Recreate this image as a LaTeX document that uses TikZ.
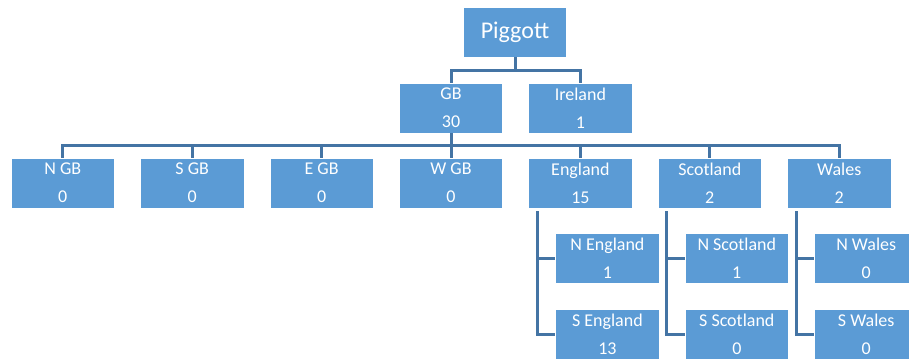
\documentclass[tikz,border=0pt]{standalone}
\usepackage{fontspec}
\setmainfont{Carlito}
\usetikzlibrary{positioning,calc}
\definecolor{boxblue}{RGB}{91,155,213}
\definecolor{lineblue}{RGB}{68,116,164}

\begin{document}
\begin{tikzpicture}[
    x=1pt, y=1pt,
    node distance=25pt and 25.3pt,
    every node/.style={font=\fontsize{18}{28}\selectfont, text=white},
    box/.style={rectangle, draw=white, line width=0.6pt, fill=boxblue, minimum width=103.5pt, minimum height=50pt, inner sep=0pt, align=center},
    conn/.style={draw=lineblue, line width=3pt}
]
    \useasboundingbox (0,0) rectangle (909,-359);
    \clip (0,0) rectangle (909,-359);

    % Nodes
    \node[box, font=\fontsize{24}{28}\selectfont] (piggott) at (515,-32) {Piggott};
    \node[box] (gb) at (451,-108) {GB\\30};
    \node[box, right=of gb] (ireland) {Ireland\\1};

    \node[box] (wgb) at (451,-183) {W GB\\0};
    \node[box, left=of wgb] (egb) {E GB\\0};
    \node[box, left=of egb] (sgb) {S GB\\0};
    \node[box, left=of sgb] (ngb) {N GB\\0};
    \node[box, right=of wgb] (england) {England\\15};
    \node[box, right=of england] (scotland) {Scotland\\2};
    \node[box, right=of scotland] (wales) {Wales\\2};

    \node[box, below=of england, xshift=27pt] (nengland) {N England\\1};
    \node[box, below=of nengland] (sengland) {S England\\13};
    \node[box, below=of scotland, xshift=27pt] (nscotland) {N Scotland\\1};
    \node[box, below=of nscotland] (sscotland) {S Scotland\\0};
    \node[box, below=of wales, xshift=27pt] (nwales) {N Wales\\0};
    \node[box, below=of nwales] (swales) {S Wales\\0};

    % Connectors
    \draw[conn] (piggott.south) -- ++(0,-13) -| (gb.north);
    \draw[conn] (piggott.south) -- ++(0,-13) -| (ireland.north);

    \draw[conn] (gb.south) -- ++(0,-12.5) coordinate (hub);
    \foreach \n in {ngb,sgb,egb,wgb,england,scotland,wales}
        \draw[conn] (hub) -| (\n.north);

    \foreach \c in {england,scotland,wales}{
        \draw[conn] ([xshift=9pt,yshift=-3pt]\c.south west) |- (s\c.west);
        \draw[conn] ([xshift=9pt,yshift=-3pt]\c.south west) |- (n\c.west);
    }

\end{tikzpicture}
\end{document}
